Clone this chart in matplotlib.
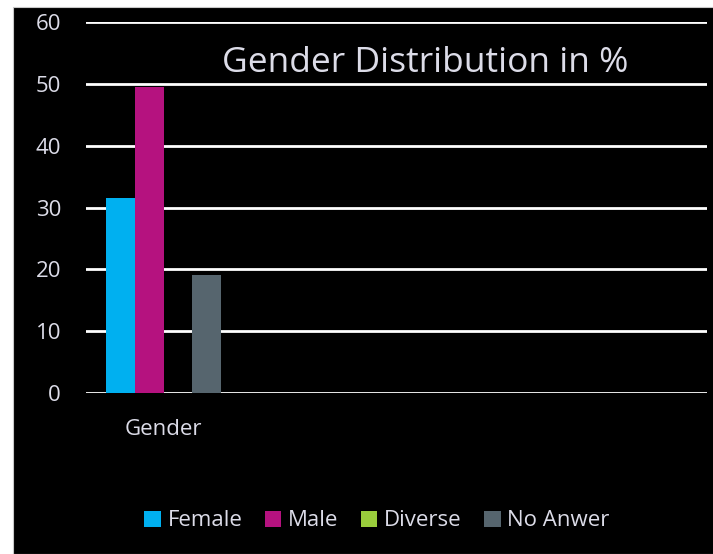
import numpy as np
import matplotlib.pyplot as plt
from matplotlib.patches import Rectangle

plt.rcParams['font.family'] = ['Open Sans', 'DejaVu Sans']

categories = ['Gender', '', '', '']
series = ['Female', 'Male', 'Diverse', 'No Anwer']
values = [
    [31.5, 0, 0, 0],
    [49.5, 0, 0, 0],
    [0, 0, 0, 0],
    [19.1, 0, 0, 0],
]
colors = ['#00b0f0', '#b5127f', '#9acd3c', '#56656e']
yticks = [0, 10, 20, 30, 40, 50, 60]
title = 'Gender Distribution in %'

txt = '#dcdce8'

fig = plt.figure(figsize=(7.13, 5.54), dpi=100, facecolor='white')
# black panel, leaving a thin white margin top and left
fig.patches.append(Rectangle((13 / 713, 0), 1, 1 - 7 / 554, transform=fig.transFigure,
                             facecolor='black', edgecolor='#c8c8c8', lw=0.8, zorder=-10))

ax = fig.add_axes([86 / 713, 1 - 393 / 554, (707 - 86) / 713, (393 - 22) / 554])
ax.set_facecolor('black')

x = np.arange(len(categories))
w = 0.184
offsets = (np.arange(len(series)) - 1.5) * w
for i, s in enumerate(series):
    ax.bar(x + offsets[i], values[i], w, color=colors[i], label=s, zorder=3)

ax.set_xlim(-0.5, len(categories) - 0.5)
ax.set_ylim(0, 60)
ax.set_yticks(yticks)
ax.set_xticks(x)
ax.set_xticklabels(categories)
ax.tick_params(axis='both', length=0, colors=txt, labelsize=16)
ax.tick_params(axis='y', pad=18)
ax.tick_params(axis='x', pad=19)
ax.yaxis.grid(True, color='white', lw=2, zorder=1)
ax.set_axisbelow(True)
for sp in ax.spines.values():
    sp.set_visible(False)

ax.text(0.546, 0.89, title, transform=ax.transAxes, ha='center', va='center',
        color=txt, fontsize=25.5, zorder=4)

leg = fig.legend(loc='center', bbox_to_anchor=(377 / 713, 1 - 521 / 554), ncol=4,
                 frameon=False, fontsize=16, handlelength=0.75, handleheight=0.75,
                 handletextpad=0.3, columnspacing=1.0, labelcolor=txt)

fig.savefig('out.png', dpi=100, facecolor='white')
